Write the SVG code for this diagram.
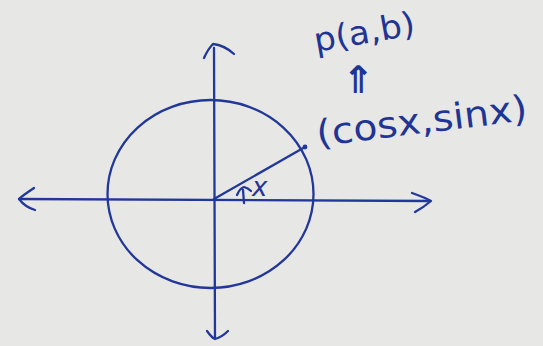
<svg xmlns="http://www.w3.org/2000/svg" width="543" height="346" viewBox="0 0 543 346">
<style>
.ink{fill:none;stroke:#22379a;stroke-width:2.3;stroke-linecap:round;stroke-linejoin:round}
.t{fill:#1f3596;font-family:"DejaVu Sans",sans-serif}
</style>
<rect width="543" height="346" fill="#e7e7e5"/>
<g id="axes">
<path class="ink" d="M19 199 L430 201"/>
<path class="ink" d="M34 188 Q22 196 19 199 Q25 207 35 210"/>
<path class="ink" d="M412 193 Q426 198 431 201 Q424 207 415 212"/>
<path class="ink" d="M214 48 L215 338"/>
<path class="ink" d="M204 58 Q208 49 213 44 Q224 45 234 54"/>
<path class="ink" d="M207 331 Q212 338 215 339 Q222 337 228 331"/>
</g>
<g id="circle">
<ellipse class="ink" cx="210.5" cy="194" rx="103" ry="94"/>
</g>
<g id="radius">
<path class="ink" d="M214 199 L305 147" stroke-width="1.9"/>
<circle cx="305" cy="147" r="2.4" fill="#22379a"/>
</g>
<g id="angle">
<path class="ink" d="M244 203 L243 190 M237 195 Q240 188 244 187 Q248 188 251 191"/>
<text class="t" x="252" y="196" font-size="26" font-style="italic">x</text>
</g>
<g id="label-point">
<text class="t" x="318" y="146" font-size="36" textLength="212" lengthAdjust="spacingAndGlyphs" transform="rotate(-7 318 146)">(cosx,sinx)</text>
</g>
<g id="label-p">
<text class="t" x="316" y="52" font-size="33" textLength="102" lengthAdjust="spacingAndGlyphs" transform="rotate(-10 316 52)">p(a,b)</text>
<text class="t" x="342" y="93" font-size="38" font-weight="bold">⇑</text>
</g>
</svg>
